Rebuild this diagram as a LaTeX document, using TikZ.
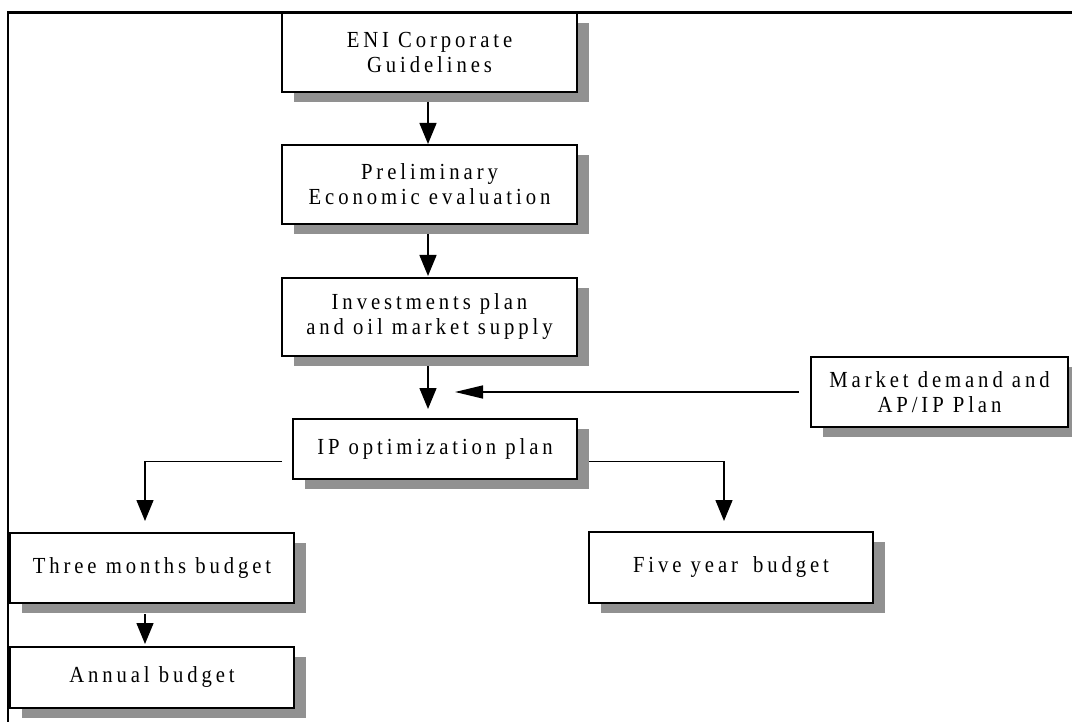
\documentclass[tikz,border=0pt]{standalone}
\usepackage{fontspec}
\usetikzlibrary{arrows.meta,shadows}
\newfontfamily\lblfont[LetterSpace=17,FakeStretch=0.9]{Liberation Serif}
\definecolor{shadowgray}{RGB}{145,145,145}
\begin{document}
\begin{tikzpicture}[x=1pt,y=-1pt,
  box/.style={draw, line width=2pt, fill=white, inner sep=0pt, align=center,
    font={\lblfont\fontsize{23}{25}\selectfont},
    drop shadow={shadow xshift=12pt, shadow yshift=-10pt, fill=shadowgray, opacity=1}},
  arr/.style={line width=1.5pt, -{Triangle[length=21pt,width=17pt]}},
  arrlong/.style={line width=1.5pt, -{Triangle[length=28pt,width=13pt]}}]
\useasboundingbox (0,0) rectangle (1072,722);
% page frame: left and top rules
\draw[line width=2.4pt] (8,722) -- (8,12.5) -- (1072,12.5);

% boxes
\node[box, minimum width=295pt, minimum height=79pt] (eni) at (429.5,52.5) {ENI Corporate\\Guidelines};
\node[box, minimum width=295pt, minimum height=79pt] (pre) at (429.5,184.5) {Preliminary\\Economic evaluation};
\node[box, minimum width=295pt, minimum height=78pt] (inv) at (429.5,317) {Investments plan\\and oil market supply};
\node[box, minimum width=257pt, minimum height=70pt] (mkt) at (939.5,392) {Market demand and\\AP/IP Plan};
\node[box, minimum width=284pt, minimum height=60pt] (ip) at (435,449) {IP optimization plan};
\node[box, minimum width=284pt, minimum height=70pt] (three) at (152,568) {Three months budget};
\node[box, minimum width=284pt, minimum height=71pt] (five) at (731,567.5) {Five year\hspace{6pt} budget};
\node[box, minimum width=284pt, minimum height=61pt] (annual) at (152,677.5) {Annual budget};

% connectors
\coordinate (mtip) at (455,392);
\draw[arr] ([xshift=-1.5pt,yshift=-9pt]eni.south) -- ([xshift=-1.5pt]pre.north);
\draw[arr] ([xshift=-1.5pt,yshift=-9pt]pre.south) -- ([xshift=-1.5pt,yshift=1pt]inv.north);
\draw[arr] ([xshift=-1.5pt,yshift=-9pt]inv.south) -- ([xshift=-1.5pt,yshift=9pt]inv.south |- ip.north);
\draw[arrlong] ([xshift=-11pt]mkt.west) -- (mtip);
\draw[arr] ([xshift=-10pt,yshift=-12.5pt]ip.west) -| ([xshift=-7pt,yshift=11pt]three.north);
\draw[arr] ([xshift=11pt,yshift=-12.5pt]ip.east) -| ([xshift=-7pt,yshift=10pt]five.north);
\draw[arr] ([xshift=-7pt,yshift=-10pt]three.south) -- ([xshift=-7pt,yshift=2pt]annual.north);
\end{tikzpicture}
\end{document}
